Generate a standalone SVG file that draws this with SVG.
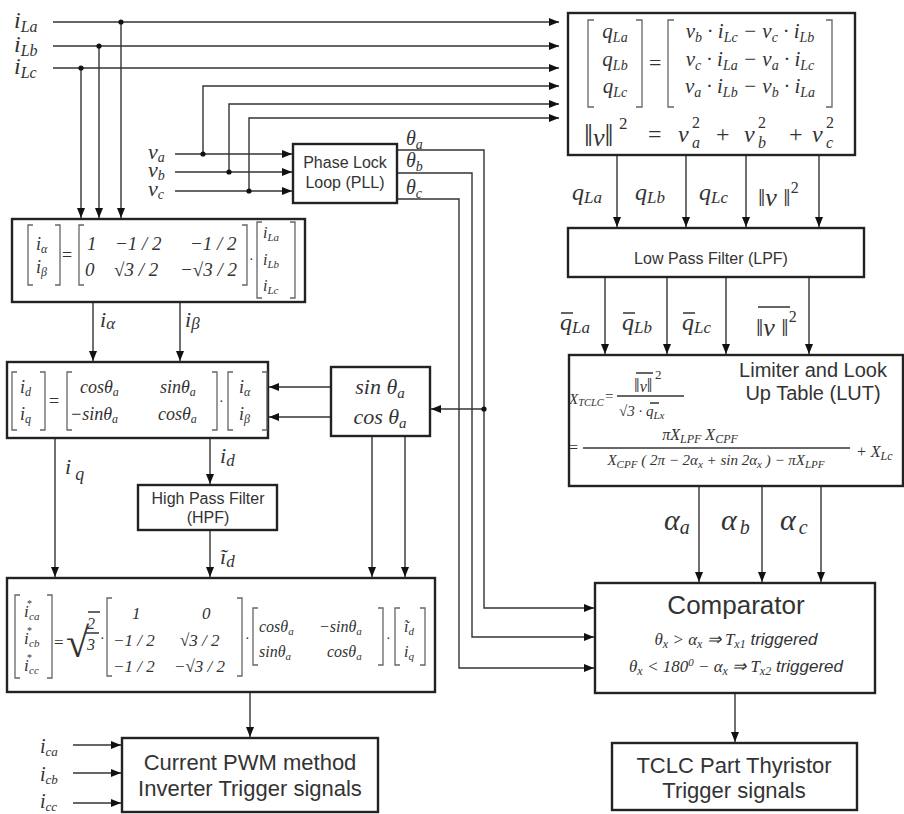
<svg xmlns="http://www.w3.org/2000/svg" width="904" height="814" viewBox="0 0 904 814">
<defs>
<style>
.m{font-family:"Liberation Serif",serif;font-style:italic;fill:#333}
.r{font-family:"Liberation Serif",serif;fill:#333}
.s{font-family:"Liberation Sans",sans-serif;fill:#333}
.ln{stroke:#333;stroke-width:1.4;fill:none}
.box{fill:#fff;stroke:#222;stroke-width:2.4}
.br{stroke:#666;stroke-width:1.3;fill:none}
.dot{fill:#111}
</style>
<marker id="ah" viewBox="0 0 10 8" refX="10" refY="4" markerWidth="11" markerHeight="8" markerUnits="userSpaceOnUse" orient="auto"><path d="M0,0L10,4L0,8z" fill="#111"/></marker>
</defs>
<rect width="904" height="814" fill="#fff"/>

<g id="connectors" class="ln" marker-end="url(#ah)">
<path d="M53,22H559"/><path d="M121,22V218"/>
<path d="M53,46H559"/><path d="M99,46V218"/>
<path d="M53,68H559"/><path d="M81,68V218"/>
<path d="M175,154H292"/><path d="M203,154V86H559"/>
<path d="M175,172H292"/><path d="M229,172V104H559"/>
<path d="M175,191H292"/><path d="M249,191V118H559"/>
<path d="M397,150H484V608H594"/><path d="M484,409H431"/>
<path d="M397,173H472V637H594"/>
<path d="M397,199H459V668H594"/>
<path d="M617,155V227"/><path d="M686,155V227"/><path d="M746,155V227"/><path d="M819,155V227"/>
<path d="M605,277V354"/><path d="M667,277V354"/><path d="M726,277V354"/><path d="M809,277V354"/>
<path d="M699,486V582"/><path d="M762,486V582"/><path d="M821,486V582"/>
<path d="M735,693V742"/>
<path d="M93,302V361"/><path d="M180,302V361"/>
<path d="M331,387H269"/><path d="M331,417H269"/>
<path d="M55,438V577"/>
<path d="M210,438V484"/>
<path d="M210,530V577"/>
<path d="M372,436V577"/><path d="M405,436V577"/>
<path d="M250,692V737"/>
<path d="M73,745H121"/><path d="M73,773H121"/><path d="M73,803H121"/>
</g>
<g id="junctions">
<circle class="dot" cx="121" cy="22" r="2.6"/><circle class="dot" cx="99" cy="46" r="2.6"/><circle class="dot" cx="81" cy="68" r="2.6"/>
<circle class="dot" cx="203" cy="154" r="2.6"/><circle class="dot" cx="229" cy="172" r="2.6"/><circle class="dot" cx="249" cy="191" r="2.6"/>
<circle class="dot" cx="484" cy="409" r="2.6"/>
</g>

<g id="signal-labels">
<text class="m" x="14" y="28" font-size="24">i<tspan dy="4" font-size="16">La</tspan></text>
<text class="m" x="14" y="52" font-size="24">i<tspan dy="4" font-size="16">Lb</tspan></text>
<text class="m" x="14" y="74" font-size="24">i<tspan dy="4" font-size="16">Lc</tspan></text>
<text class="m" x="148" y="159" font-size="22">v<tspan dy="3" font-size="14">a</tspan></text>
<text class="m" x="148" y="177" font-size="22">v<tspan dy="3" font-size="14">b</tspan></text>
<text class="m" x="148" y="196" font-size="22">v<tspan dy="3" font-size="14">c</tspan></text>
<text class="m" x="406" y="145" font-size="20">θ<tspan dy="4" font-size="14">a</tspan></text>
<text class="m" x="406" y="167" font-size="20">θ<tspan dy="4" font-size="14">b</tspan></text>
<text class="m" x="406" y="194" font-size="20">θ<tspan dy="4" font-size="14">c</tspan></text>
<text class="m" x="572" y="200" font-size="24">q<tspan dy="3" font-size="17">La</tspan></text>
<text class="m" x="635" y="200" font-size="24">q<tspan dy="3" font-size="17">Lb</tspan></text>
<text class="m" x="699" y="200" font-size="24">q<tspan dy="3" font-size="17">Lc</tspan></text>
<text class="r" x="758" y="206" font-size="26">‖<tspan class="m">v</tspan> ‖<tspan dy="-13" font-size="16">2</tspan></text>
<text class="m" x="560" y="330" font-size="24">q<tspan dy="3" font-size="17">La</tspan></text>
<text class="m" x="622" y="330" font-size="24">q<tspan dy="3" font-size="17">Lb</tspan></text>
<text class="m" x="682" y="330" font-size="24">q<tspan dy="3" font-size="17">Lc</tspan></text>
<path class="ln" d="M561,313H573M623,313H635M683,313H695M758,307H790"/>
<text class="r" x="756" y="336" font-size="26">‖<tspan class="m">v</tspan> ‖<tspan dy="-14" font-size="16">2</tspan></text>
<text class="m" x="100" y="327" font-size="22">i<tspan dy="2" font-size="17">α</tspan></text>
<text class="m" x="185" y="327" font-size="22">i<tspan dy="2" font-size="17">β</tspan></text>
<text class="m" x="65" y="474" font-size="22">i<tspan dx="4" dy="6" font-size="18">q</tspan></text>
<text class="m" x="220" y="463" font-size="22">i<tspan dy="3" font-size="17">d</tspan></text>
<text class="m" x="220" y="564" font-size="22">ĩ<tspan dy="3" font-size="17">d</tspan></text>
<text class="m" x="664" y="530" font-size="30">α<tspan dy="4" font-size="20">a</tspan></text>
<text class="m" x="721" y="530" font-size="30">α<tspan dx="3" dy="4" font-size="20">b</tspan></text>
<text class="m" x="780" y="530" font-size="30">α<tspan dx="3" dy="4" font-size="20">c</tspan></text>
<text class="m" x="40" y="753" font-size="20">i<tspan dy="3" font-size="13">ca</tspan></text>
<text class="m" x="40" y="781" font-size="20">i<tspan dy="3" font-size="13">cb</tspan></text>
<text class="m" x="40" y="808" font-size="20">i<tspan dy="3" font-size="13">cc</tspan></text>
</g>

<g id="node-pq">
<rect class="box" x="568" y="13" width="287" height="142"/>
<path class="br" d="M594,20H588V107H594M636,20H642V107H636M674,20H668V107H674M826,20H832V107H826"/>
<text class="m" x="615" y="38" font-size="21" text-anchor="middle">q<tspan dy="4" font-size="14">La</tspan></text>
<text class="m" x="615" y="66" font-size="21" text-anchor="middle">q<tspan dy="4" font-size="14">Lb</tspan></text>
<text class="m" x="615" y="93" font-size="21" text-anchor="middle">q<tspan dy="4" font-size="14">Lc</tspan></text>
<text class="r" x="649" y="70" font-size="22">=</text>
<text class="m" x="750" y="38" font-size="21" text-anchor="middle">v<tspan dy="4" font-size="14">b</tspan><tspan dy="-4"> · i</tspan><tspan dy="4" font-size="14">Lc</tspan><tspan dy="-4"> − v</tspan><tspan dy="4" font-size="14">c</tspan><tspan dy="-4"> · i</tspan><tspan dy="4" font-size="14">Lb</tspan></text>
<text class="m" x="750" y="66" font-size="21" text-anchor="middle">v<tspan dy="4" font-size="14">c</tspan><tspan dy="-4"> · i</tspan><tspan dy="4" font-size="14">La</tspan><tspan dy="-4"> − v</tspan><tspan dy="4" font-size="14">a</tspan><tspan dy="-4"> · i</tspan><tspan dy="4" font-size="14">Lc</tspan></text>
<text class="m" x="750" y="93" font-size="21" text-anchor="middle">v<tspan dy="4" font-size="14">a</tspan><tspan dy="-4"> · i</tspan><tspan dy="4" font-size="14">Lb</tspan><tspan dy="-4"> − v</tspan><tspan dy="4" font-size="14">b</tspan><tspan dy="-4"> · i</tspan><tspan dy="4" font-size="14">La</tspan></text>
<text class="r" x="584" y="146" font-size="32">‖<tspan class="m" font-size="26">v</tspan>‖</text>
<text class="r" x="619" y="129" font-size="17">2</text>
<text class="r" x="648" y="142" font-size="24">=</text>
<text class="m" x="678" y="142" font-size="24">v</text>
<text class="r" x="692" y="128" font-size="16">2</text>
<text class="m" x="692" y="148" font-size="16">a</text>
<text class="r" x="716" y="142" font-size="24">+</text>
<text class="m" x="744" y="142" font-size="24">v</text>
<text class="r" x="758" y="128" font-size="16">2</text>
<text class="m" x="758" y="148" font-size="16">b</text>
<text class="r" x="789" y="142" font-size="24">+</text>
<text class="m" x="812" y="142" font-size="24">v</text>
<text class="r" x="826" y="128" font-size="16">2</text>
<text class="m" x="826" y="148" font-size="16">c</text>
</g>

<g id="node-pll">
<rect class="box" x="293" y="144" width="104" height="59"/>
<text class="s" x="345" y="168" font-size="16" text-anchor="middle">Phase Lock</text>
<text class="s" x="345" y="188" font-size="16" text-anchor="middle">Loop (PLL)</text>
</g>

<g id="node-lpf">
<rect class="box" x="568" y="228" width="296" height="49"/>
<text class="s" x="711" y="264" font-size="16" text-anchor="middle">Low Pass Filter (LPF)</text>
</g>

<g id="node-clarke">
<rect class="box" x="12" y="219" width="293" height="83"/>
<path class="br" d="M33,225H28V285H33M55,225H60V285H55M84,225H79V285H84M242,225H247V285H242M262,222H257V298H262M290,222H295V298H290"/>
<text class="m" x="36" y="250" font-size="18">i<tspan dy="3" font-size="12">α</tspan></text>
<text class="m" x="36" y="273" font-size="18">i<tspan dy="3" font-size="12">β</tspan></text>
<text class="r" x="62" y="261" font-size="18">=</text>
<text class="m" x="87" y="250" font-size="19">1</text>
<text class="m" x="115" y="250" font-size="19">−1 / 2</text>
<text class="m" x="190" y="250" font-size="19">−1 / 2</text>
<text class="m" x="85" y="276" font-size="19">0</text>
<text class="m" x="114" y="276" font-size="19">√3 / 2</text>
<text class="m" x="180" y="276" font-size="19">−√3 / 2</text>
<text class="r" x="249" y="264" font-size="14">·</text>
<text class="m" x="263" y="238" font-size="16">i<tspan dy="3" font-size="11">La</tspan></text>
<text class="m" x="263" y="265" font-size="16">i<tspan dy="3" font-size="11">Lb</tspan></text>
<text class="m" x="263" y="291" font-size="16">i<tspan dy="3" font-size="11">Lc</tspan></text>
</g>

<g id="node-park">
<rect class="box" x="7" y="362" width="261" height="76"/>
<path class="br" d="M17,372H12V430H17M40,372H45V430H40M72,372H67V430H72M212,372H217V430H212M233,372H228V430H233M262,372H267V430H262"/>
<text class="m" x="20" y="393" font-size="18">i<tspan dy="3" font-size="12">d</tspan></text>
<text class="m" x="20" y="420" font-size="18">i<tspan dy="3" font-size="12">q</tspan></text>
<text class="r" x="49" y="407" font-size="18">=</text>
<text class="m" x="80" y="393" font-size="18">cosθ<tspan dy="3" font-size="12">a</tspan></text>
<text class="m" x="160" y="393" font-size="18">sinθ<tspan dy="3" font-size="12">a</tspan></text>
<text class="m" x="70" y="420" font-size="18">−sinθ<tspan dy="3" font-size="12">a</tspan></text>
<text class="m" x="158" y="420" font-size="18">cosθ<tspan dy="3" font-size="12">a</tspan></text>
<text class="r" x="219" y="406" font-size="14">·</text>
<text class="m" x="239" y="393" font-size="18">i<tspan dy="3" font-size="12">α</tspan></text>
<text class="m" x="239" y="420" font-size="18">i<tspan dy="3" font-size="12">β</tspan></text>
</g>

<g id="node-sincos">
<rect class="box" x="331" y="367" width="99" height="69"/>
<text class="m" x="380" y="394" font-size="22" text-anchor="middle">sin θ<tspan dy="4" font-size="15">a</tspan></text>
<text class="m" x="380" y="424" font-size="22" text-anchor="middle">cos θ<tspan dy="4" font-size="15">a</tspan></text>
</g>

<g id="node-hpf">
<rect class="box" x="138" y="485" width="139" height="45"/>
<text class="s" x="208" y="504" font-size="16" text-anchor="middle">High Pass Filter</text>
<text class="s" x="208" y="523" font-size="16" text-anchor="middle">(HPF)</text>
</g>

<g id="node-lut">
<rect class="box" x="569" y="355" width="334" height="131"/>
<text class="m" x="569" y="404" font-size="15">X<tspan dy="2" font-size="10.5">TCLC</tspan></text>
<text class="r" x="605" y="401" font-size="15">=</text>
<path class="ln" d="M617,396H684M636,373H653M650,403H659"/>
<text class="r" x="634" y="392" font-size="20">‖<tspan class="m" font-size="16">v</tspan>‖</text>
<text class="r" x="655" y="379" font-size="13">2</text>
<text class="m" x="619" y="416" font-size="15"><tspan class="r">√</tspan>3 · q<tspan dy="3" font-size="11">Lx</tspan></text>
<text class="s" x="813" y="377" font-size="20" text-anchor="middle">Limiter and Look</text>
<text class="s" x="813" y="400" font-size="20" text-anchor="middle">Up Table (LUT)</text>
<text class="r" x="569" y="453" font-size="16">=</text>
<path class="ln" d="M583,448H850"/>
<text class="m" x="700" y="440" font-size="16" text-anchor="middle">πX<tspan dy="3" font-size="12">LPF</tspan><tspan dy="-3"> X</tspan><tspan dy="3" font-size="12">CPF</tspan></text>
<text class="m" x="716" y="465" font-size="15" text-anchor="middle">X<tspan dy="3" font-size="11">CPF</tspan><tspan dy="-3"> ( 2π − 2α</tspan><tspan dy="3" font-size="11">x</tspan><tspan dy="-3"> + sin 2α</tspan><tspan dy="3" font-size="11">x</tspan><tspan dy="-3"> ) − πX</tspan><tspan dy="3" font-size="11">LPF</tspan></text>
<text class="m" x="856" y="457" font-size="16">+ X<tspan dy="3" font-size="12">Lc</tspan></text>
</g>

<g id="node-inverse">
<rect class="box" x="7" y="578" width="428" height="114"/>
<path class="br" d="M20,595H15V678H20M47,595H52V678H47M112,598H107V676H112M237,598H242V676H237M258,608H253V665H258M378,608H383V665H378M400,608H395V665H400M420,608H425V665H420"/>
<text class="m" x="24" y="617" font-size="17">i</text><text class="r" x="27" y="607" font-size="10">*</text><text class="m" x="29" y="620" font-size="11">ca</text>
<text class="m" x="24" y="644" font-size="17">i</text><text class="r" x="27" y="634" font-size="10">*</text><text class="m" x="29" y="647" font-size="11">cb</text>
<text class="m" x="24" y="671" font-size="17">i</text><text class="r" x="27" y="661" font-size="10">*</text><text class="m" x="29" y="674" font-size="11">cc</text>
<text class="r" x="54" y="648" font-size="17">=</text>
<text class="r" x="66" y="657" font-size="42">√</text>
<path class="ln" d="M88,612H100M85,633H99"/>
<text class="m" x="87" y="629" font-size="16">2</text>
<text class="m" x="87" y="650" font-size="16">3</text>
<text class="r" x="100" y="643" font-size="14">·</text>
<text class="m" x="132" y="619" font-size="17">1</text>
<text class="m" x="202" y="619" font-size="17">0</text>
<text class="m" x="113" y="646" font-size="17">−1 / 2</text>
<text class="m" x="180" y="646" font-size="17">√3 / 2</text>
<text class="m" x="113" y="672" font-size="17">−1 / 2</text>
<text class="m" x="174" y="672" font-size="17">−√3 / 2</text>
<text class="r" x="245" y="643" font-size="14">·</text>
<text class="m" x="259" y="632" font-size="16">cosθ<tspan dy="3" font-size="11">a</tspan></text>
<text class="m" x="319" y="632" font-size="16">−sinθ<tspan dy="3" font-size="11">a</tspan></text>
<text class="m" x="259" y="657" font-size="16">sinθ<tspan dy="3" font-size="11">a</tspan></text>
<text class="m" x="327" y="657" font-size="16">cosθ<tspan dy="3" font-size="11">a</tspan></text>
<text class="r" x="386" y="643" font-size="14">·</text>
<text class="m" x="404" y="632" font-size="16">ĩ<tspan dy="3" font-size="11">d</tspan></text>
<text class="m" x="404" y="657" font-size="16">i<tspan dy="3" font-size="11">q</tspan></text>
</g>

<g id="node-comparator">
<rect class="box" x="595" y="583" width="280" height="110"/>
<text class="s" x="736" y="614" font-size="26" text-anchor="middle">Comparator</text>
<text x="736" y="645" font-size="17" text-anchor="middle"><tspan class="m">θ<tspan dy="3" font-size="12">x</tspan><tspan dy="-3"> &gt; α</tspan><tspan dy="3" font-size="12">x</tspan><tspan dy="-3"> ⇒ T</tspan><tspan dy="3" font-size="12">x1</tspan></tspan><tspan class="s" dy="-3" font-style="italic"> triggered</tspan></text>
<text x="736" y="672" font-size="17" text-anchor="middle"><tspan class="m">θ<tspan dy="3" font-size="12">x</tspan><tspan dy="-3"> &lt; 180</tspan><tspan dy="-6" font-size="11">0</tspan><tspan dy="6"> − α</tspan><tspan dy="3" font-size="12">x</tspan><tspan dy="-3"> ⇒ T</tspan><tspan dy="3" font-size="12">x2</tspan></tspan><tspan class="s" dy="-3" font-style="italic"> triggered</tspan></text>
</g>

<g id="node-pwm">
<rect class="box" x="122" y="738" width="256" height="74"/>
<text class="s" x="250" y="770" font-size="22" text-anchor="middle">Current PWM method</text>
<text class="s" x="250" y="796" font-size="22" text-anchor="middle">Inverter Trigger signals</text>
</g>

<g id="node-tclc">
<rect class="box" x="612" y="743" width="245" height="67"/>
<text class="s" x="734" y="773" font-size="22" text-anchor="middle">TCLC Part Thyristor</text>
<text class="s" x="734" y="798" font-size="22" text-anchor="middle">Trigger signals</text>
</g>
</svg>
